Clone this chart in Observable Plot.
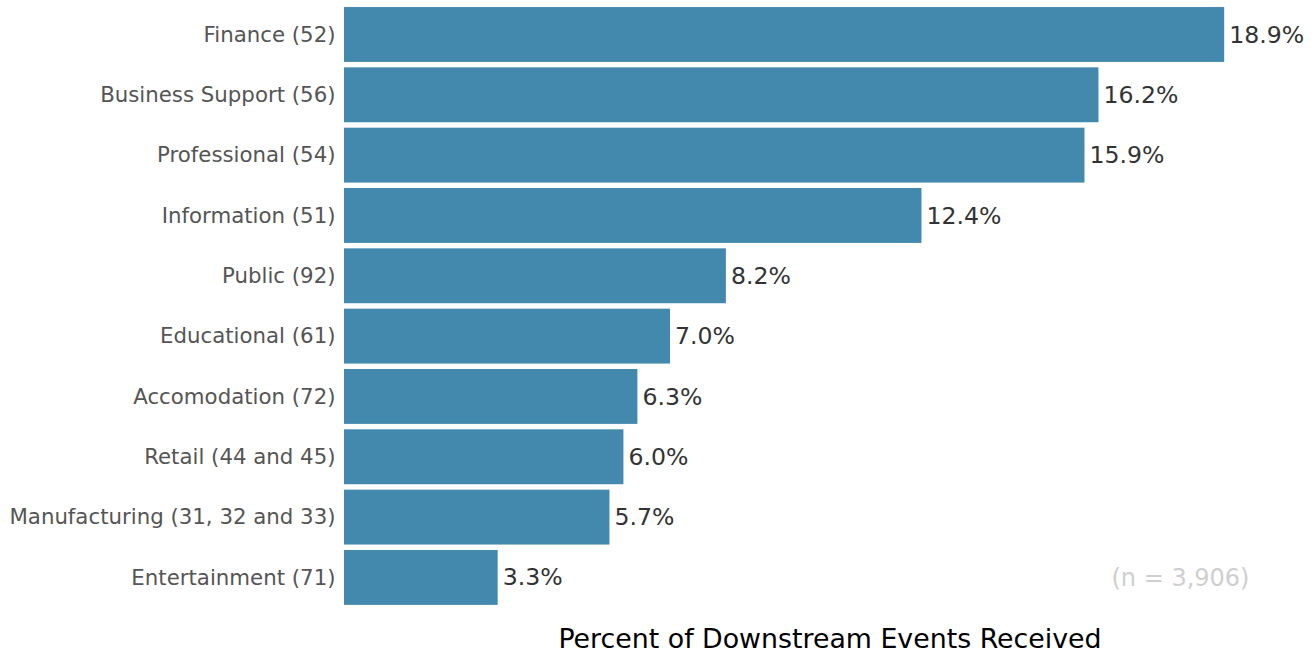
<!DOCTYPE html>
<html>
<head>
<meta charset="utf-8">
<script src="https://cdn.jsdelivr.net/npm/d3@7"></script>
<script src="https://cdn.jsdelivr.net/npm/@observablehq/plot@0.6"></script>
<style>
  html, body { margin: 0; padding: 0; background: #fff; }
  svg { display: block; }
  #chart svg, #chart svg text { font-family: "DejaVu Sans", sans-serif !important; }
</style>
</head>
<body>
<div id="chart"></div>
<script>
const categories = [
  "Finance (52)",
  "Business Support (56)",
  "Professional (54)",
  "Information (51)",
  "Public (92)",
  "Educational (61)",
  "Accomodation (72)",
  "Retail (44 and 45)",
  "Manufacturing (31, 32 and 33)",
  "Entertainment (71)"
];
const percents = [18.9, 16.2, 15.9, 12.4, 8.2, 7.0, 6.3, 6.0, 5.7, 3.3];
const sampleNote = "(n = 3,906)";
const xLabel = "Percent of Downstream Events Received";

const data = categories.map((c, i) => ({category: c, value: percents[i]}));

const chart = Plot.plot({
  width: 1315,
  height: 653,
  marginLeft: 344,
  marginRight: 0,
  marginTop: 1.6,
  marginBottom: 42.7,
  style: "font-family: 'DejaVu Sans', sans-serif; background: #fff;",
  x: {domain: [0, 20.85], axis: null},
  y: {domain: categories, padding: 0.09, round: false, label: null},
  marks: [
    Plot.barX(data, {x: "value", y: "category", fill: "#4389AD"}),
    Plot.text(data, {x: "value", y: "category", text: d => d.value.toFixed(1) + "%",
      textAnchor: "start", dx: 4.5, fill: "#333", fontSize: 23.6}),
    Plot.axisY({tickSize: 0, tickPadding: 9, fontSize: 21.3, color: "#555", label: null}),
    Plot.text([sampleNote], {x: [17.95], y: [categories[categories.length - 1]],
      text: d => d, textAnchor: "middle", fill: "#cfcfcf", fontSize: 24}),
    Plot.text([xLabel], {frameAnchor: "bottom", lineAnchor: "bottom", dy: 37,
      text: d => d, fill: "#000", fontSize: 26.8})
  ]
});
document.getElementById("chart").appendChild(chart);
</script>
</body>
</html>
